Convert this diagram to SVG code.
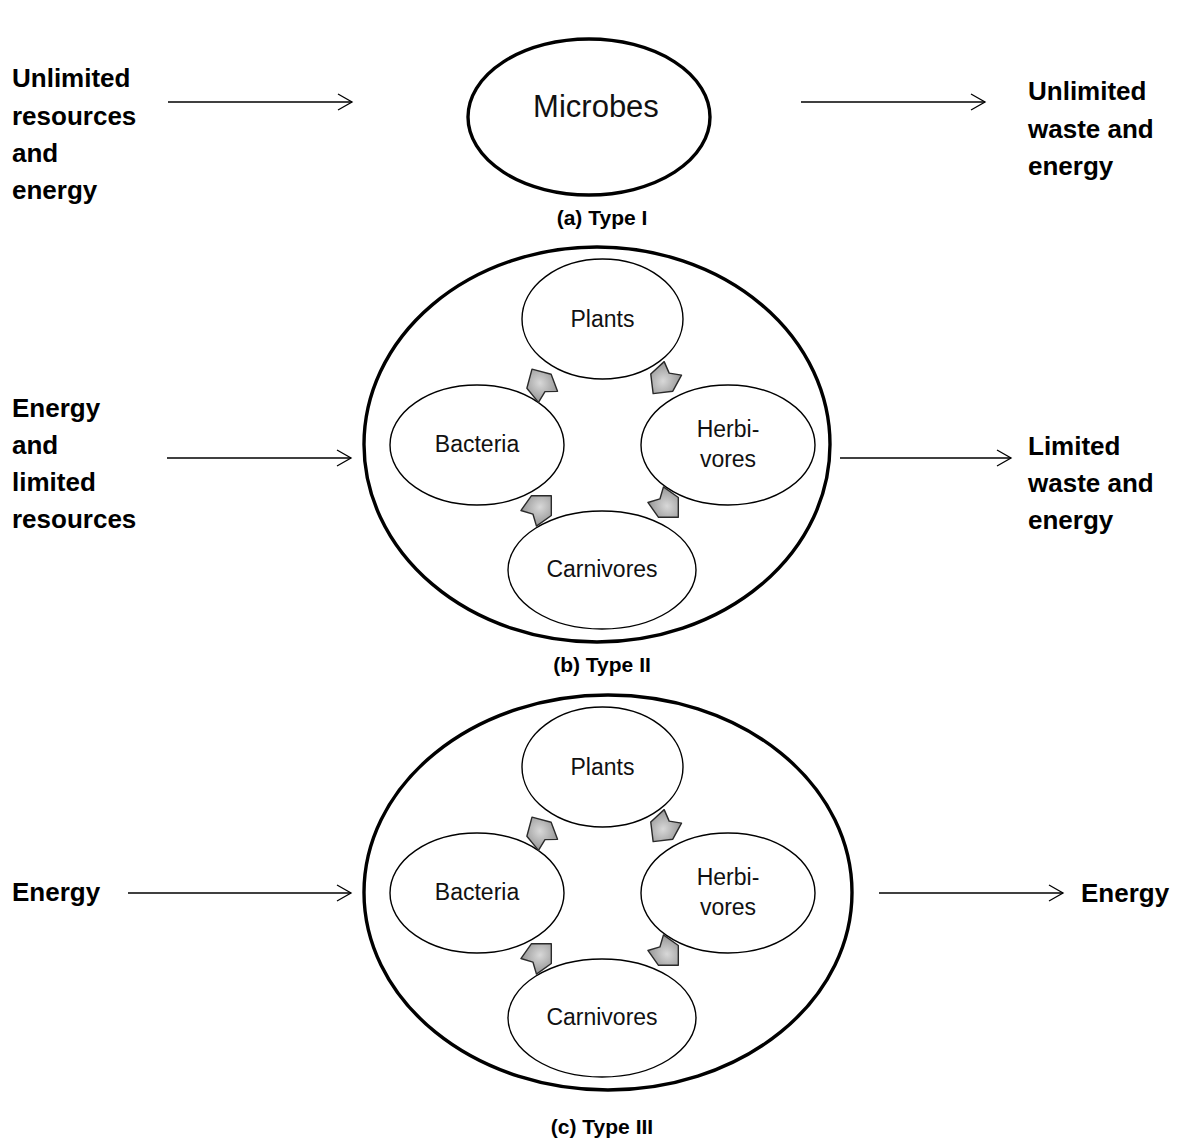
<svg xmlns="http://www.w3.org/2000/svg" width="1183" height="1141" viewBox="0 0 1183 1141">
<style>
.big{font-family:"Liberation Sans",Arial,sans-serif;font-weight:bold;font-size:26px;fill:#000}
.cap{font-family:"Liberation Sans",Arial,sans-serif;font-weight:bold;font-size:21px;fill:#000;text-anchor:middle}
.lbl{font-family:"Liberation Sans",Arial,sans-serif;font-size:23px;fill:#111;text-anchor:middle}
.outer{fill:#fff;stroke:#000;stroke-width:3.4}
.inner{fill:#fff;stroke:#000;stroke-width:1.4}
.conn{stroke:#000;stroke-width:1.3;fill:none;marker-end:url(#chev)}
.blk{fill:url(#gg);stroke:#2a2a2a;stroke-width:1.4;stroke-linejoin:round}
</style>
<defs>
<marker id="chev" markerUnits="userSpaceOnUse" markerWidth="18" markerHeight="20" refX="15" refY="9" orient="auto">
<path d="M1,1 L15,9 L1,17" fill="none" stroke="#000" stroke-width="1.3"/>
</marker>
<radialGradient id="gg" cx="0.5" cy="0.5" r="0.6">
<stop offset="0" stop-color="#d8d8d8"/>
<stop offset="1" stop-color="#999"/>
</radialGradient>
<path id="ba" d="M16,0 L2,-14 L-16,-11 L-10,0 L-16,11 L2,14 Z"/>
</defs>
<rect width="1183" height="1141" fill="#fff"/>

<g id="connectors">
<line class="conn" x1="168" y1="102" x2="352" y2="102"/>
<line class="conn" x1="801" y1="102" x2="985" y2="102"/>
<line class="conn" x1="167" y1="458" x2="351" y2="458"/>
<line class="conn" x1="840" y1="458" x2="1011" y2="458"/>
<line class="conn" x1="128" y1="893" x2="351" y2="893"/>
<line class="conn" x1="879" y1="893" x2="1063" y2="893"/>
</g>

<!-- Type I -->
<g id="in-a">
<text class="big" x="12" y="87">Unlimited</text>
<text class="big" x="12" y="124.5">resources</text>
<text class="big" x="12" y="162">and</text>
<text class="big" x="12" y="199">energy</text>
</g>
<g id="microbes">
<ellipse class="outer" cx="589" cy="117" rx="121" ry="78"/>
<text x="596" y="117" font-family="Liberation Sans, Arial, sans-serif" font-size="31" text-anchor="middle" fill="#111">Microbes</text>
</g>
<g id="out-a">
<text class="big" x="1028" y="100">Unlimited</text>
<text class="big" x="1028" y="137.5">waste and</text>
<text class="big" x="1028" y="175">energy</text>
</g>
<text class="cap" x="602" y="225">(a) Type I</text>

<!-- Type II -->
<g id="in-b">
<text class="big" x="12" y="417">Energy</text>
<text class="big" x="12" y="454">and</text>
<text class="big" x="12" y="491">limited</text>
<text class="big" x="12" y="528">resources</text>
</g>
<g id="system-b">
<ellipse class="outer" cx="597" cy="444.5" rx="233" ry="197.5"/>
</g>
<g id="plants-b"><ellipse class="inner" cx="602.5" cy="319" rx="80.5" ry="60"/><text class="lbl" x="602.5" y="327">Plants</text></g>
<g id="bacteria-b"><ellipse class="inner" cx="477" cy="445" rx="87" ry="60"/><text class="lbl" x="477" y="452">Bacteria</text></g>
<g id="herbivores-b"><ellipse class="inner" cx="728" cy="445" rx="87" ry="60"/><text class="lbl" x="728" y="437">Herbi-</text><text class="lbl" x="728" y="467">vores</text></g>
<g id="carnivores-b"><ellipse class="inner" cx="602" cy="570" rx="94" ry="59"/><text class="lbl" x="602" y="577">Carnivores</text></g>
<g id="cycle-b">
<use href="#ba" class="blk" transform="translate(540,383) rotate(-120)"/>
<use href="#ba" class="blk" transform="translate(663,381) rotate(128)"/>
<use href="#ba" class="blk" transform="translate(667,506) rotate(45)"/>
<use href="#ba" class="blk" transform="translate(540,507) rotate(-45)"/>
</g>
<g id="out-b">
<text class="big" x="1028" y="455">Limited</text>
<text class="big" x="1028" y="492">waste and</text>
<text class="big" x="1028" y="529">energy</text>
</g>
<text class="cap" x="602" y="672">(b) Type II</text>

<!-- Type III -->
<g id="in-c"><text class="big" x="12" y="901">Energy</text></g>
<g id="system-c">
<ellipse class="outer" cx="608" cy="892.5" rx="244" ry="197.5"/>
</g>
<g id="plants-c"><ellipse class="inner" cx="602.5" cy="767" rx="80.5" ry="60"/><text class="lbl" x="602.5" y="775">Plants</text></g>
<g id="bacteria-c"><ellipse class="inner" cx="477" cy="893" rx="87" ry="60"/><text class="lbl" x="477" y="900">Bacteria</text></g>
<g id="herbivores-c"><ellipse class="inner" cx="728" cy="893" rx="87" ry="60"/><text class="lbl" x="728" y="885">Herbi-</text><text class="lbl" x="728" y="915">vores</text></g>
<g id="carnivores-c"><ellipse class="inner" cx="602" cy="1018" rx="94" ry="59"/><text class="lbl" x="602" y="1025">Carnivores</text></g>
<g id="cycle-c">
<use href="#ba" class="blk" transform="translate(540,831) rotate(-120)"/>
<use href="#ba" class="blk" transform="translate(663,829) rotate(128)"/>
<use href="#ba" class="blk" transform="translate(667,954) rotate(45)"/>
<use href="#ba" class="blk" transform="translate(540,955) rotate(-45)"/>
</g>
<g id="out-c"><text class="big" x="1081" y="902">Energy</text></g>
<text class="cap" x="602" y="1134">(c) Type III</text>
</svg>
